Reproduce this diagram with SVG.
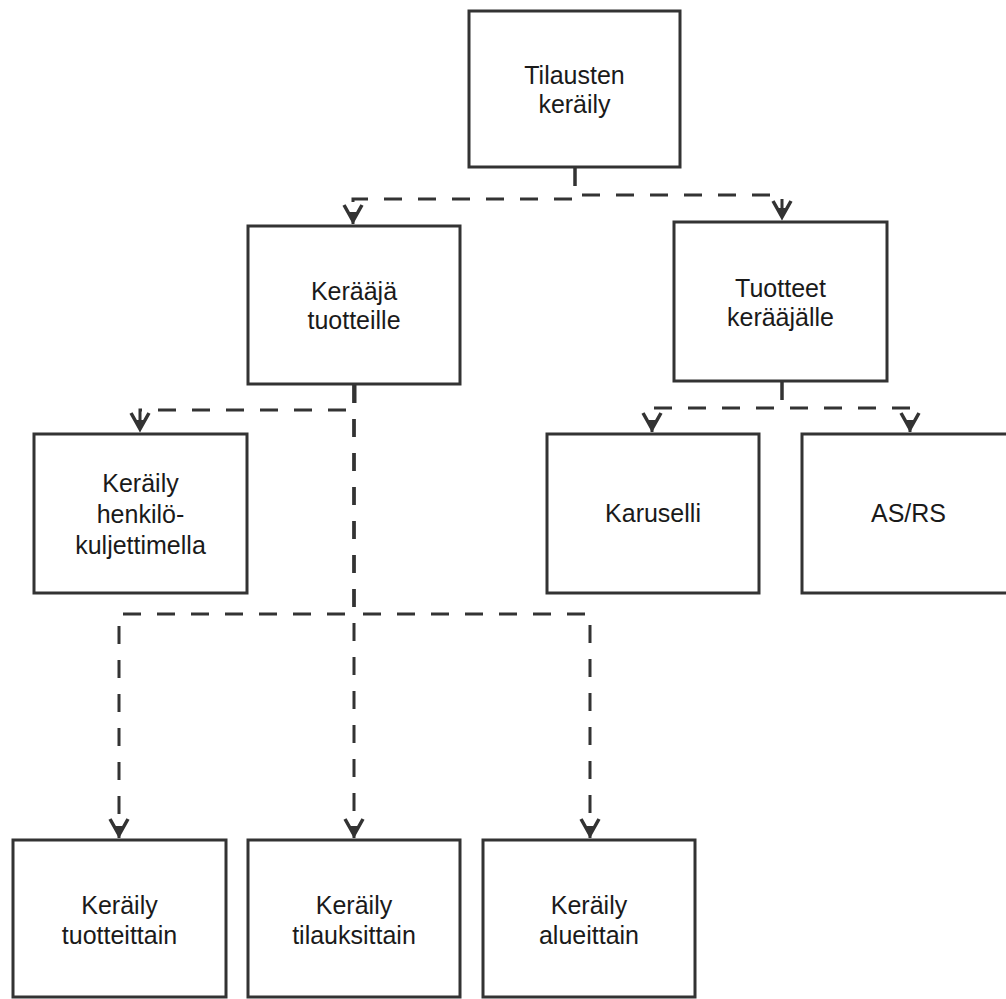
<svg xmlns="http://www.w3.org/2000/svg" width="1006" height="999" viewBox="0 0 1006 999">
<style>
.box{fill:#fff;stroke:#333;stroke-width:3}
.lbl{font-family:"Liberation Sans",Arial,sans-serif;font-size:25px;fill:#1a1a1a;text-anchor:middle}
.con{fill:none;stroke:#333;stroke-width:3;stroke-dasharray:18 16}
</style>
<defs>
<marker id="arr" markerUnits="userSpaceOnUse" orient="auto" refX="0" refY="0" viewBox="-22 -12 24 24" markerWidth="24" markerHeight="24" overflow="visible">
<path d="M-19,-9 L-3,0 L-19,9" fill="none" stroke="#333" stroke-width="3.5"/>
<path d="M-12,-4.5 L0,0 L-12,4.5 Z" fill="#333"/>
</marker>
</defs>
<rect width="1006" height="999" fill="#fff"/>
<g id="connectors">
<path class="con" d="M575,168 V199 H353 V224" marker-end="url(#arr)"/>
<path class="con" d="M575,168 V195 H782 V220" marker-end="url(#arr)"/>
<path class="con" d="M355,385 V410 H140 V432" marker-end="url(#arr)"/>
<path class="con" d="M354,385 V614 H119 V838" marker-end="url(#arr)"/>
<path class="con" d="M354,385 V838" marker-end="url(#arr)"/>
<path class="con" d="M354,385 V614 H590 V838" marker-end="url(#arr)"/>
<path class="con" d="M782,382 V408 H652 V432" marker-end="url(#arr)"/>
<path class="con" d="M782,382 V408 H910 V432" marker-end="url(#arr)"/>
</g>
<g id="n1"><rect class="box" x="469" y="11" width="211" height="156"/><text class="lbl" x="574.5" y="84">Tilausten<tspan x="574.5" dy="29">keräily</tspan></text></g>
<g id="n2"><rect class="box" x="248" y="226" width="212" height="158"/><text class="lbl" x="354" y="300">Kerääjä<tspan x="354" dy="29">tuotteille</tspan></text></g>
<g id="n3"><rect class="box" x="674" y="222" width="213" height="159"/><text class="lbl" x="780.5" y="297">Tuotteet<tspan x="780.5" dy="29">kerääjälle</tspan></text></g>
<g id="n4"><rect class="box" x="34" y="434" width="213" height="159"/><text class="lbl" x="140.5" y="492">Keräily<tspan x="140.5" dy="31">henkilö-</tspan><tspan x="140.5" dy="31">kuljettimella</tspan></text></g>
<g id="n5"><rect class="box" x="547" y="434" width="212" height="159"/><text class="lbl" x="653" y="522">Karuselli</text></g>
<g id="n6"><rect class="box" x="802" y="434" width="213" height="159"/><text class="lbl" x="908.5" y="522">AS/RS</text></g>
<g id="n7"><rect class="box" x="13" y="840" width="213" height="157"/><text class="lbl" x="119.5" y="914">Keräily<tspan x="119.5" dy="30">tuotteittain</tspan></text></g>
<g id="n8"><rect class="box" x="248" y="840" width="212" height="157"/><text class="lbl" x="354" y="914">Keräily<tspan x="354" dy="30">tilauksittain</tspan></text></g>
<g id="n9"><rect class="box" x="483" y="840" width="212" height="157"/><text class="lbl" x="589" y="914">Keräily<tspan x="589" dy="30">alueittain</tspan></text></g>
</svg>
